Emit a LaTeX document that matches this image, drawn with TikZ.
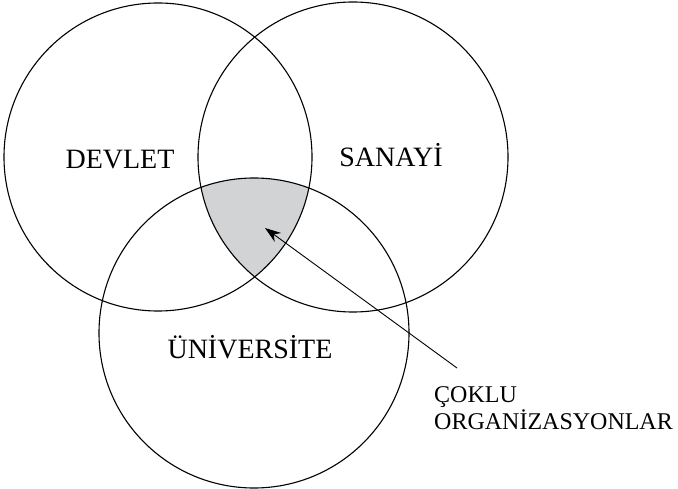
\documentclass[tikz,border=0pt]{standalone}
\usepackage{fontspec}
\setmainfont{Liberation Serif}
\usetikzlibrary{arrows.meta}
\definecolor{lapgray}{RGB}{209,211,212}
\pgfdeclarelayer{bg}
\pgfsetlayers{bg,main}
\tikzset{
    every node/.style={inner sep=0mm}
}
\tikzset{
    ring/.style={circle, draw, line width=1.1pt},
    sector/.style={font=\fontsize{28}{30}\selectfont},
    note/.style={font=\fontsize{24}{27}\selectfont, align=left}
}

\begin{document}
\begin{tikzpicture}[x=1pt, y=-1pt]
    \useasboundingbox (0,0) rectangle (678,489);

    \node (dev) [ring, minimum size=308pt] at (158,157) {};
    \node (san) [ring, minimum size=310pt] at (353,157) {};
    \node (uni) [ring, minimum size=310pt] at (254,333) {};

    \node (devT) [sector, anchor=base] at (120,169) {DEVLET};
    \node (sanT) [sector, anchor=base] at (391,167) {SANAYİ};
    \node (uniT) [sector, anchor=base] at (250,359) {ÜNİVERSİTE};
    \node (cok) [note, anchor=north west] at (434,386) {ÇOKLU\\ORGANİZASYONLAR};

    \coordinate (tip) at (265,228);
    \coordinate (tail) at (457,368);
    \draw [-{Stealth[length=16pt, width=11pt]}, line width=0.9pt] (tail) -- (tip);

    \begin{pgfonlayer}{bg}
        \begin{scope}
            \clip (dev.center) circle [radius=154pt];
            \clip (san.center) circle [radius=155pt];
            \fill [lapgray] (uni.center) circle [radius=155pt];
        \end{scope}
    \end{pgfonlayer}
\end{tikzpicture}
\end{document}
